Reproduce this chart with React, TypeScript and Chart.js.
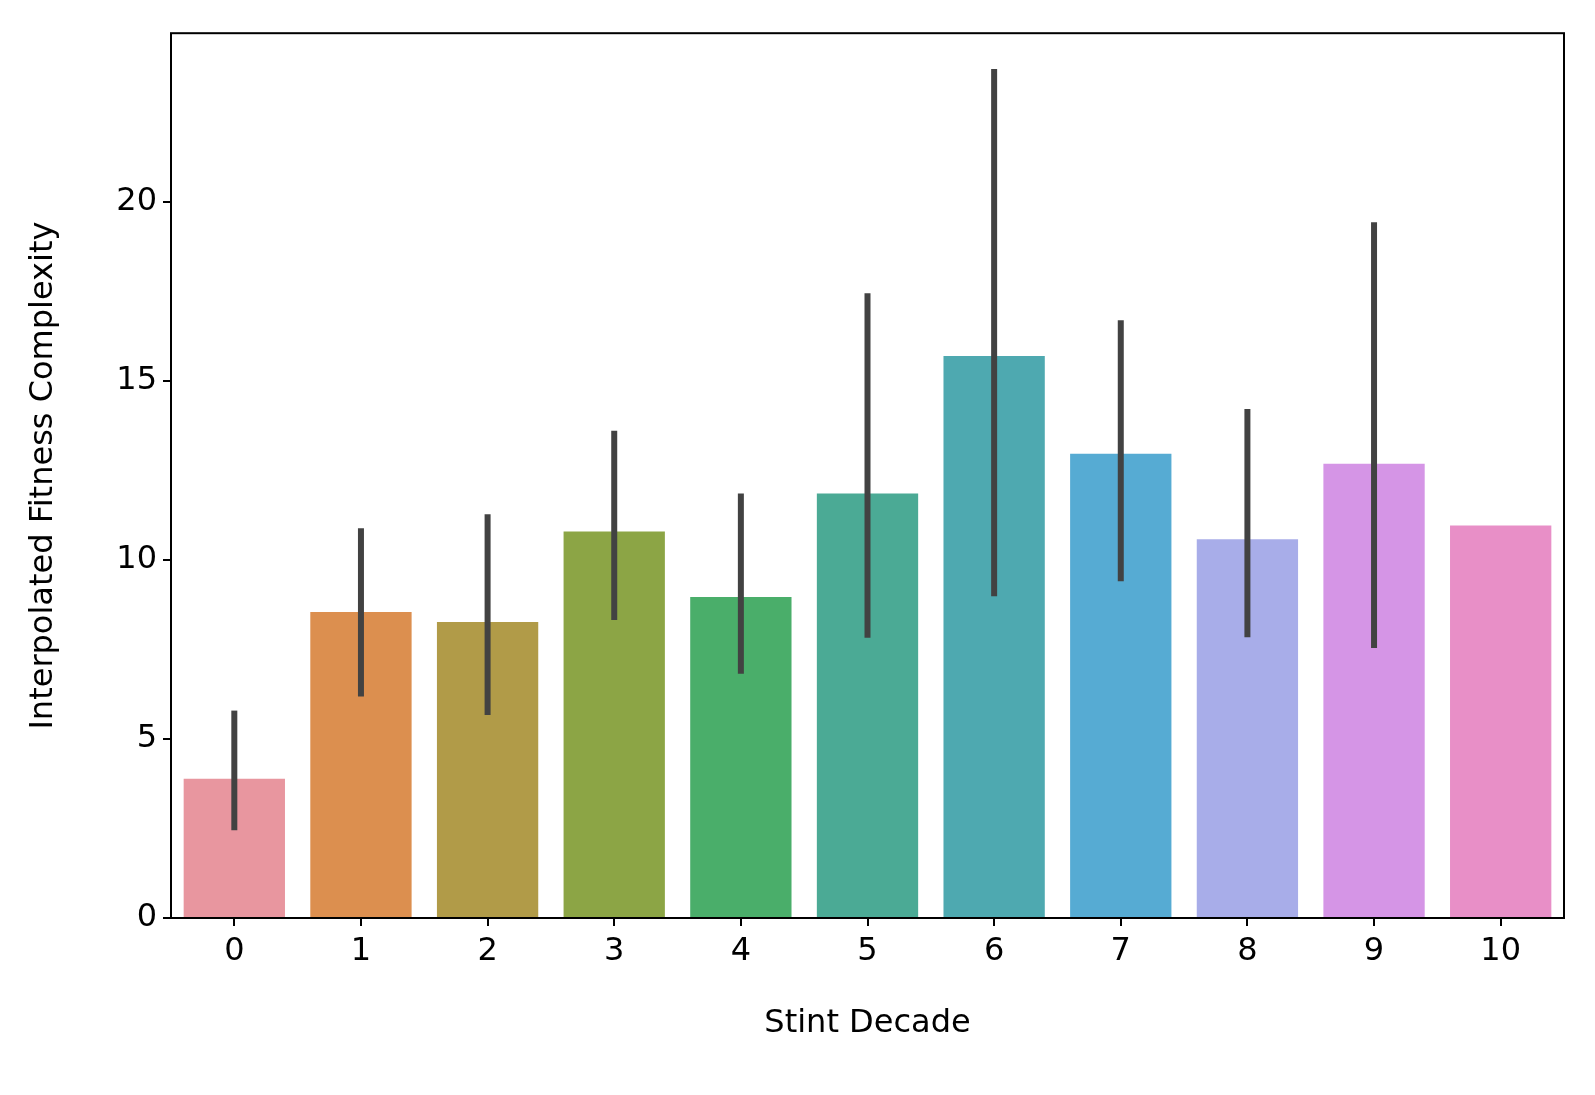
import React, { useEffect, useRef } from "react";
import { Chart, registerables } from "chart.js";

Chart.register(...registerables);

const categories = ["0", "1", "2", "3", "4", "5", "6", "7", "8", "9", "10"];
const means = [3.89, 8.54, 8.26, 10.79, 8.96, 11.85, 15.69, 12.96, 10.57, 12.68, 10.96];
const errLow = [2.45, 6.18, 5.67, 8.32, 6.82, 7.82, 8.98, 9.4, 7.84, 7.54, NaN];
const errHigh = [5.79, 10.88, 11.27, 13.6, 11.85, 17.44, 23.7, 16.69, 14.21, 19.42, NaN];
const yTicks = [0, 5, 10, 15, 20];
const colors = ["#E8969F", "#DC8F4F", "#B19B48", "#8CA545", "#4AAE6A", "#4BAA95", "#4EA9B0", "#56ABD3", "#A8ADE9", "#D595E6", "#E88FC7"];

const FONT = "'DejaVu Sans', sans-serif";

const extras = {
  id: "extras",
  afterDatasetsDraw(chart: any) {
    const { ctx, scales, chartArea } = chart;
    const x = scales.x;
    const y = scales.y;
    ctx.save();
    ctx.strokeStyle = "#424242";
    ctx.lineWidth = 6;
    errLow.forEach((lo, i) => {
      if (isNaN(lo)) return;
      const px = x.getPixelForValue(i);
      ctx.beginPath();
      ctx.moveTo(px, y.getPixelForValue(lo));
      ctx.lineTo(px, y.getPixelForValue(errHigh[i]));
      ctx.stroke();
    });
    ctx.strokeStyle = "#000";
    ctx.lineWidth = 2;
    ctx.strokeRect(chartArea.left, chartArea.top, chartArea.right - chartArea.left, chartArea.bottom - chartArea.top);
    ctx.restore();
  },
};

export default function App() {
  const canvasRef = useRef<HTMLCanvasElement | null>(null);

  useEffect(() => {
    if (!canvasRef.current) return;
    const chart = new Chart(canvasRef.current, {
      type: "bar",
      data: {
        labels: categories,
        datasets: [{ data: means, backgroundColor: colors, categoryPercentage: 0.8, barPercentage: 1 }],
      },
      options: {
        animation: false,
        responsive: false,
        layout: { padding: { top: 22, right: 23, left: 16, bottom: 44 } },
        plugins: { legend: { display: false }, tooltip: { enabled: false } },
        scales: {
          x: {
            afterFit: (s: any) => { s.height = 125; },
            grid: { display: true, offset: false, drawOnChartArea: false, tickLength: 8, color: "#000", lineWidth: 2 },
            border: { display: false },
            ticks: { color: "#000", font: { family: FONT, size: 32 }, padding: 6 },
            title: { display: true, text: "Stint Decade", color: "#000", font: { family: FONT, size: 32 }, padding: 0 },
          },
          y: {
            min: 0,
            max: 24.7,
            afterFit: (s: any) => { s.width = 147; },
            afterBuildTicks: (s: any) => { s.ticks = yTicks.map((v) => ({ value: v })); },
            grid: { display: true, drawOnChartArea: false, tickLength: 8, color: "#000", lineWidth: 2 },
            border: { display: false },
            ticks: { color: "#000", font: { family: FONT, size: 32 }, padding: 6 },
            title: { display: true, text: "Interpolated Fitness Complexity", color: "#000", font: { family: FONT, size: 32 }, padding: 0 },
          },
        },
      },
      plugins: [extras],
    });
    return () => chart.destroy();
  }, []);

  return (
    <div style={{ width: 1579, height: 1079, background: "#fff" }}>
      <canvas ref={canvasRef} width={1579} height={1079} />
    </div>
  );
}
